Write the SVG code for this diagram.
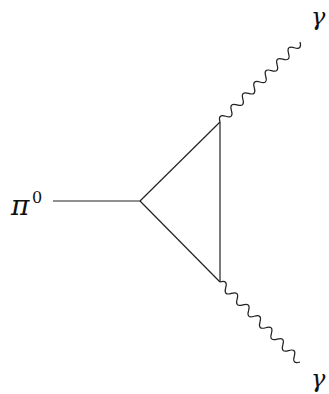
<svg xmlns="http://www.w3.org/2000/svg" width="329" height="394" viewBox="0 0 329 394">
<style>
.ln{fill:none;stroke:#222;stroke-width:1.2;stroke-linejoin:round}
.lbl{font-family:"DejaVu Serif","Liberation Serif",serif;font-style:italic;fill:#111}
.sup{font-family:"DejaVu Serif","Liberation Serif",serif;fill:#111}
</style>
<defs>
<path id="wave" d="M0,0 c2.7,-5 5.4,-5 8.08,0 s5.4,5 8.08,0 s5.4,-5 8.08,0 s5.4,5 8.08,0 s5.4,-5 8.08,0 s5.4,5 8.08,0 s5.4,-5 8.08,0 s5.4,5 8.08,0 s5.4,-5 8.08,0 s5.4,5 8.08,0 s5.4,-5 8.08,0 s5.4,5 8.08,0 s5.4,-5 8.08,0 s5.4,5 8.08,0"/>
</defs>
<g id="connectors">
<line class="ln" x1="53" y1="201" x2="140" y2="201"/>
<line class="ln" x1="140" y1="201" x2="220" y2="122"/>
<line class="ln" x1="140" y1="201" x2="220" y2="282"/>
<line class="ln" x1="220" y1="122" x2="220" y2="282"/>
<use class="ln" href="#wave" transform="translate(220,122) rotate(-45)"/>
<use class="ln" href="#wave" transform="translate(220,282) rotate(45)"/>
</g>
<g id="pi0">
<text class="lbl" x="11" y="215" font-size="28">π</text>
<text class="sup" x="32" y="203" font-size="16">0</text>
</g>
<g id="gamma-top">
<text class="lbl" x="311" y="25" font-size="24">γ</text>
</g>
<g id="gamma-bottom">
<text class="lbl" x="311" y="387" font-size="24">γ</text>
</g>
</svg>
